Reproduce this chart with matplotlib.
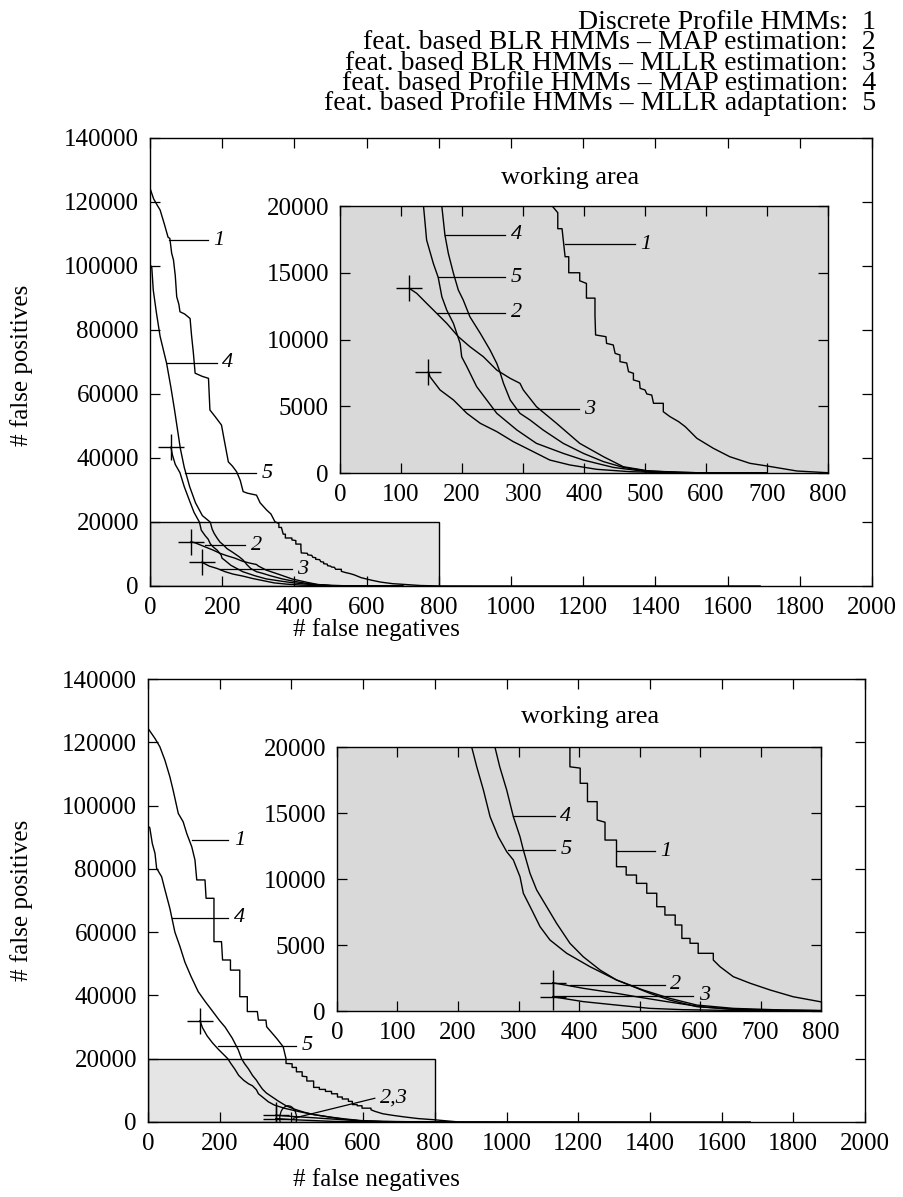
import matplotlib.pyplot as plt
from matplotlib.patches import Rectangle, Ellipse

plt.rcParams["font.family"] = ["Liberation Serif", "DejaVu Serif"]

legend_names = [
    "Discrete Profile HMMs:  1",
    "feat. based BLR HMMs – MAP estimation:  2",
    "feat. based BLR HMMs – MLLR estimation:  3",
    "feat. based Profile HMMs – MAP estimation:  4",
    "feat. based Profile HMMs – MLLR adaptation:  5",
]

# ---- upper chart: (false negatives, false positives) per model ----
top_c1_x = [0, 10, 20, 28, 40, 50, 55, 60, 65, 70, 74, 80, 83, 96, 111, 115, 120, 125, 145, 162,
            166, 180, 198, 205, 217, 228, 240, 250, 258, 270, 295, 305, 323, 335, 346, 357, 357, 364, 369, 375,
            375, 393, 393, 404, 404, 418, 418, 419, 436, 437, 448, 451, 459, 459, 470, 473, 481, 481, 491, 492,
            500, 503, 511, 514, 530, 530, 541, 555, 566, 585, 612, 639, 672, 700, 749, 798, 900, 1690]
top_c1_y = [124300, 121000, 119000, 117500, 113000, 109000, 108600, 104000, 101900, 97000, 90400, 88000, 85700, 85000, 83600, 78400, 73000, 66500, 65500, 64900,
            55000, 53000, 50300, 46000, 38800, 37500, 35700, 33000, 29500, 29000, 28400, 26000, 23750, 22500, 20100, 19500, 18300, 18300, 16200, 16200,
            15000, 15000, 14400, 14200, 13100, 13100, 11800, 10340, 10210, 9710, 9590, 8960, 8840, 8340, 8240, 7590, 7470, 6970, 6840, 6340,
            6220, 5920, 5840, 5220, 5220, 4590, 4220, 3850, 3470, 2600, 1850, 1220, 725, 525, 150, 25, 10, 0]

top_c2_x = [113.6, 125.7, 142, 158.5, 175, 194, 213, 235, 257, 279, 295, 300.5, 322, 355, 393, 432, 464.5, 503, 557, 700]
top_c2_y = [13830, 13460, 12710, 11960, 11210, 10210, 9460, 8710, 7710, 7090, 6720, 6220, 4970, 3720, 2220, 1220, 470, 175, 20, 0]

top_c3_x = [145, 147.5, 164, 186, 208, 230, 257, 284, 311.5, 344, 377, 421, 475, 530, 700]
top_c3_y = [7590, 7210, 6220, 5470, 4470, 3720, 3100, 2350, 1720, 970, 600, 275, 100, 25, 0]

top_c4_x = [0, 5, 9, 18, 28, 46, 58, 68, 76, 84, 95, 110, 126, 145, 167, 172, 177.6, 186, 194, 202,
            213, 230, 246, 257, 262, 268, 279, 295, 311.5, 333, 366, 399, 432, 464.5, 503, 585, 700]
top_c4_y = [100500, 99500, 92500, 85200, 78000, 69600, 62000, 55000, 49000, 43000, 37000, 31000, 26000, 22000, 19950, 17830, 16450, 14950, 13700, 12960,
            11700, 10460, 9210, 8210, 7590, 6720, 5470, 4470, 3970, 3220, 2220, 1470, 850, 420, 150, 20, 0]

top_c5_x = [58, 62, 70, 83, 95, 110, 122, 137, 142, 153, 161, 167, 175, 186, 197, 199.5, 208, 224, 240.5, 257,
            290, 322, 366, 399, 448, 503, 585, 700]
top_c5_y = [43400, 41000, 38000, 35400, 31000, 26500, 23000, 19950, 17450, 15700, 14650, 13200, 12200, 11200, 9700, 8700, 7960, 6470, 5470, 4470,
            3220, 2220, 1470, 970, 420, 100, 20, 0]

# ---- lower chart ----
bot_c1_x = [0, 19.5, 33, 47, 61, 70, 84.5, 98, 108, 122, 131, 136, 159, 162, 184, 184, 205, 208, 230, 230,
            256, 256, 277, 277, 305, 308, 329, 331, 359, 377, 385, 385, 402, 402, 414, 414, 430, 430, 443, 443,
            462, 462, 478, 478, 495, 495, 512, 512, 528.5, 528.5, 542, 542, 559, 559, 570, 570, 583.5, 583.5, 597, 597,
            622, 622, 633, 655, 683, 716, 754, 798, 860, 1680]
bot_c1_y = [124400, 121200, 118600, 114400, 109100, 104900, 97500, 94900, 91200, 87000, 82800, 76500, 76500, 70700, 70700, 57000, 57000, 51200, 51200, 48000,
            48000, 39600, 39600, 34900, 34900, 32200, 32200, 30100, 26400, 23800, 20000, 18500, 18400, 17250, 17250, 15860, 15860, 14470, 14300, 12950,
            12950, 10930, 10930, 10300, 10300, 9670, 9670, 8920, 8920, 7900, 7900, 7270, 7270, 6515, 6515, 5500, 5500, 5130, 5130, 4370,
            4370, 3860, 3360, 2600, 2100, 1590, 1080, 710, 80, 0]

bot_c2_x = [356.5, 407, 462, 495, 545, 600, 655, 738, 860]
bot_c2_y = [2140, 1720, 1340, 1080, 710, 330, 130, 50, 0]

bot_c3_x = [356.5, 407, 462, 517, 572, 683, 860]
bot_c3_y = [1080, 710, 450, 200, 100, 20, 0]

bot_c4_x = [0, 5, 12, 19.5, 24, 38, 47, 61, 75, 89, 103, 120, 140, 160, 177.5, 200, 215, 235, 252, 261,
            269, 280.5, 291.5, 302.5, 308, 319, 330, 346.6, 363, 385, 407, 435, 462, 490, 517, 550, 594.6, 655, 738, 860]
bot_c4_y = [93500, 93000, 88000, 84900, 80200, 77500, 73500, 67500, 60000, 55500, 50500, 46000, 41200, 38000, 35400, 32000, 30000, 26500, 22750, 20000,
            18500, 16740, 14720, 13200, 12200, 10430, 9170, 7900, 6640, 5130, 4110, 3100, 2350, 1840, 1340, 830, 330, 130, 50, 0]

bot_c5_x = [145, 152, 165, 180, 196, 212, 222.6, 231, 242, 253, 266.7, 280.5, 291.5, 302.5, 308, 322, 335.6, 352, 379.7, 418,
            462, 506, 550, 594.6, 655, 738, 860]
bot_c5_y = [32000, 29800, 27200, 25000, 23000, 21200, 20000, 18500, 16740, 14720, 13200, 12070, 11440, 10170, 8920, 7650, 6390, 5380, 4370, 3360,
            2350, 1590, 960, 450, 200, 75, 0]

top_curves = [(top_c1_x, top_c1_y), (top_c2_x, top_c2_y), (top_c3_x, top_c3_y),
              (top_c4_x, top_c4_y), (top_c5_x, top_c5_y)]
bot_curves = [(bot_c1_x, bot_c1_y), (bot_c2_x, bot_c2_y), (bot_c3_x, bot_c3_y),
              (bot_c4_x, bot_c4_y), (bot_c5_x, bot_c5_y)]
start_marked = [1, 2, 4]  # curves 2, 3 and 5 start with a cross

W, H = 904, 1197
fig = plt.figure(figsize=(W / 100, H / 100), dpi=100)


def px_axes(left, top, right, bottom):
    return fig.add_axes([left / W, 1 - bottom / H, (right - left) / W, (bottom - top) / H])


def style(ax, xmax, ymax, xstep, ystep):
    ax.set_xlim(0, xmax)
    ax.set_ylim(0, ymax)
    ax.set_xticks(range(0, xmax + 1, xstep))
    ax.set_yticks(range(0, ymax + 1, ystep))
    ax.tick_params(direction="in", top=True, right=True, length=7, width=0.9,
                   labelsize=18, pad=8)
    for s in ax.spines.values():
        s.set_linewidth(1.0)


def draw(ax, curves):
    for x, y in curves:
        ax.plot(x, y, color="k", lw=1.0)
    for i in start_marked:
        x, y = curves[i]
        ax.plot(x[0], y[0], marker="+", ms=19, mew=1.0, color="k")


def tag(ax, x0, x1, y, txt):
    ax.plot([x0, x1], [y, y], color="k", lw=0.9)
    ax.annotate(txt, (x1, y), xytext=(4, 0), textcoords="offset points",
                ha="left", va="center", fontsize=16, fontstyle="italic")


# header key, one block of right-aligned lines
fig.text(876 / W, 1 - 63 / H, "\n".join(legend_names), ha="right", va="center",
         multialignment="right", fontsize=20, linespacing=0.76)

# ---------------- upper chart ----------------
ax = px_axes(150, 138, 872, 586)
style(ax, 2000, 140000, 200, 20000)
ax.add_patch(Rectangle((0, 0), 800, 20000, fc="#e5e5e5", ec="k", lw=1.0, zorder=0.5))
draw(ax, top_curves)
tag(ax, 53.5, 161, 108100, "1")
tag(ax, 46, 184.5, 69800, "4")
tag(ax, 97, 295, 35200, "5")
tag(ax, 152, 263, 12800, "2")
tag(ax, 194, 392, 5200, "3")

ins = px_axes(340, 206, 828, 473)
ins.set_facecolor("#d9d9d9")
style(ins, 800, 20000, 100, 5000)
draw(ins, top_curves)
tag(ins, 172, 270.5, 17830, "4")
tag(ins, 161, 270.5, 14650, "5")
tag(ins, 158.5, 270.5, 12010, "2")
tag(ins, 202, 391, 4790, "3")
tag(ins, 369, 483.6, 17150, "1")

fig.text(570 / W, 1 - 178 / H, "working area", ha="center", va="center", fontsize=19)
fig.text(376 / W, 1 - 630 / H, "# false negatives", ha="center", va="center", fontsize=18)
fig.text(22 / W, 1 - 365 / H, "# false positives", ha="center", va="center", fontsize=18, rotation=90)

# ---------------- lower chart ----------------
ax2 = px_axes(148, 679, 865, 1122)
style(ax2, 2000, 140000, 200, 20000)
ax2.add_patch(Rectangle((0, 0), 800, 20000, fc="#e5e5e5", ec="k", lw=1.0, zorder=0.5))
draw(ax2, bot_curves)
tag(ax2, 122, 224, 89100, "1")
tag(ax2, 66, 224, 64600, "4")
tag(ax2, 196, 414, 24100, "5")
ax2.plot([405, 632.6], [1170, 7500], color="k", lw=0.9)
ax2.annotate("2,3", (632.6, 7500), xytext=(4, 0), textcoords="offset points",
             ha="left", va="center", fontsize=16, fontstyle="italic")
ax2.add_patch(Ellipse((391, 1170), 47, 7900, fill=False, ec="k", lw=0.9))

ins2 = px_axes(337, 747, 821, 1011)
ins2.set_facecolor("#d9d9d9")
style(ins2, 800, 20000, 100, 5000)
draw(ins2, bot_curves)
tag(ins2, 291.5, 360, 14770, "4")
tag(ins2, 283, 360, 12200, "5")
tag(ins2, 462, 525.6, 12120, "1")
tag(ins2, 385, 542, 1970, "2")
tag(ins2, 357.6, 589, 1140, "3")

fig.text(590 / W, 1 - 717 / H, "working area", ha="center", va="center", fontsize=19)
fig.text(376 / W, 1 - 1180 / H, "# false negatives", ha="center", va="center", fontsize=18)
fig.text(22 / W, 1 - 900 / H, "# false positives", ha="center", va="center", fontsize=18, rotation=90)

fig.savefig("out.png", dpi=100)
